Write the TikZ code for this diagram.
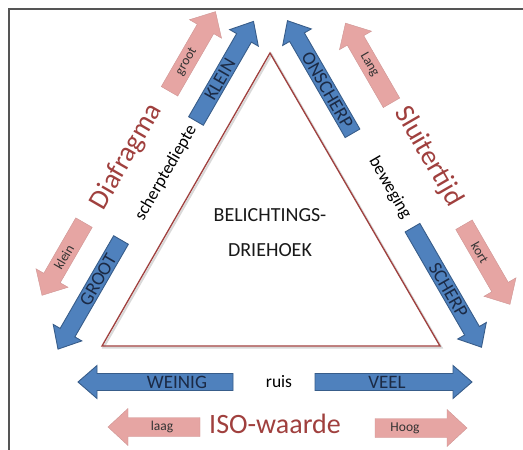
\documentclass[tikz,border=0pt]{standalone}
\usepackage{fontspec}
\setmainfont{Carlito}
\definecolor{bfill}{HTML}{4F81BD}
\definecolor{bline}{HTML}{385D8A}
\definecolor{pfill}{HTML}{E6A5A3}
\definecolor{dred}{HTML}{A0403E}
\definecolor{navy}{HTML}{1B2A45}
\definecolor{frame}{HTML}{555555}
\def\fsh{8.5}\def\fhh{16.5}\def\fhl{19}
% #1 style, #2 tail, #3 angle, #4 length, #5 label style, #6 label pos, #7 label rotation, #8 text, #9 name
\newcommand\fatarr[9]{%
  \begin{scope}[shift={#2},rotate=#3]
    \draw[#1] (0,-\fsh) -- ({#4-\fhl},-\fsh) -- ({#4-\fhl},-\fhh) -- (#4,0)
      -- ({#4-\fhl},\fhh) -- ({#4-\fhl},\fsh) -- (0,\fsh) -- cycle;
    \node[#5, rotate=#7] (#9) at (#6,0) {#8};
  \end{scope}}
\begin{document}
\begin{tikzpicture}[x=1pt,y=-1pt,
  bluearr/.style={fill=bfill, draw=bline, line width=0.9pt, line join=miter},
  pinkarr/.style={fill=pfill, draw=pfill!90!black, line width=0.4pt},
  bluelbl/.style={inner sep=0pt, text=navy, font=\fontsize{19}{20}\selectfont},
  pinklbl/.style={inner sep=0pt, text=black!80, font=\fontsize{13.5}{15}\selectfont},
  title/.style={inner sep=0pt, text=dred, font=\fontsize{28}{30}\selectfont},
  blacklbl/.style={inner sep=0pt, text=black, font=\fontsize{17.5}{19}\selectfont},
  centre/.style={inner sep=0pt, text=black!90, font=\fontsize{20}{22}\selectfont}]
\useasboundingbox (0,0) rectangle (523,450);
\fill[white] (0,0) rectangle (523,450);
% frame lines
\draw[frame, line width=1.2pt] (9,450) -- (9,9) -- (523,9);
% triangle
\coordinate (apex) at (270,53);
\coordinate (bl) at (102,346);
\coordinate (br) at (440,346);
\draw[black!15, line width=2pt] ([shift={(1.5,1.5)}]apex) -- ([shift={(1.5,1.5)}]bl) -- ([shift={(1.5,1.5)}]br) -- cycle;
\draw[dred, line width=1.3pt, line join=miter] (apex) -- (bl) -- (br) -- cycle;
\node[centre] (t1) at (270,215) {BELICHTINGS-};
\node[centre] (t2) at (270,250) {DRIEHOEK};
% blue arrows
\fatarr{bluearr}{(196,121)}{60}{115}{bluelbl}{48}{60}{KLEIN}{klein}
\fatarr{bluearr}{(121,240)}{240}{126}{bluelbl}{46}{60}{GROOT}{groot}
\fatarr{bluearr}{(352.5,133.3)}{120}{130}{bluelbl}{50}{-60}{ONSCHERP}{onscherp}
\fatarr{bluearr}{(412.5,227.7)}{300}{138}{bluelbl}{72}{-60}{SCHERP}{scherp}
\fatarr{bluearr}{(233,382)}{180}{155}{bluelbl}{56}{0}{WEINIG}{weinig}
\fatarr{bluearr}{(315,382)}{0}{157}{bluelbl}{72}{0}{VEEL}{veel}
% pink arrows
\def\fsh{9.5}\def\fhh{18.5}\def\fhl{20}
\fatarr{pinkarr}{(169.5,91.3)}{60}{92}{pinklbl}{34}{60}{groot}{pgroot}
\fatarr{pinkarr}{(84,222.6)}{240}{84}{pinklbl}{40}{60}{klein}{pklein}
\fatarr{pinkarr}{(391.5,102.8)}{120}{92}{pinklbl}{44}{-60}{Lang}{plang}
\fatarr{pinkarr}{(464,224.7)}{300}{92}{pinklbl}{32}{-60}{kort}{pkort}
\fatarr{pinkarr}{(200,427)}{180}{92}{pinklbl}{38}{0}{laag}{plaag}
\fatarr{pinkarr}{(375,428)}{0}{92}{pinklbl}{30}{0}{Hoog}{phoog}
% titles
\node[title, rotate=60] (diaf) at (126.5,157) {Diafragma};
\node[title, rotate=-60] (sluit) at (428.5,156.5) {Sluitertijd};
\node[title] (iso) at (275,424) {ISO-waarde};
% black labels
\node[blacklbl, rotate=60] (sd) at (166,173) {scherptediepte};
\node[blacklbl, rotate=-60] (bw) at (390,188) {beweging};
\node[blacklbl] (ruis) at (279,382) {ruis};
\end{tikzpicture}
\end{document}
